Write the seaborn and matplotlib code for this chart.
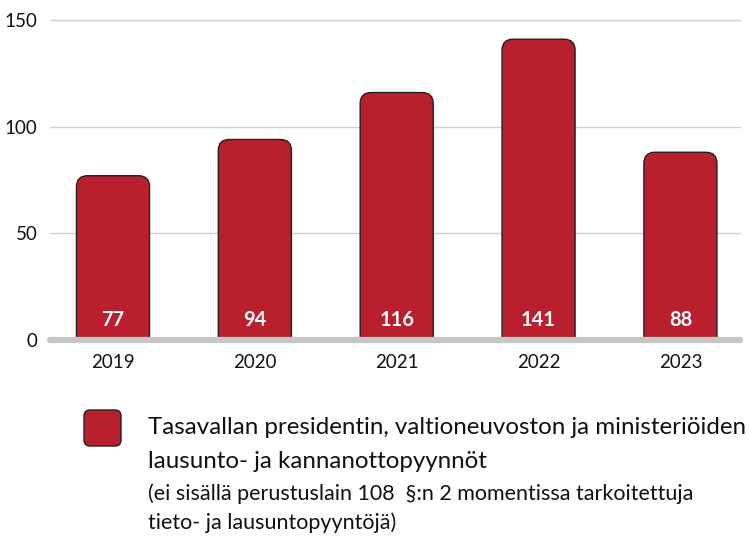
import matplotlib
matplotlib.use("Agg")
import matplotlib.pyplot as plt
import seaborn as sns
import pandas as pd
from matplotlib.patches import FancyBboxPatch

years = ["2019", "2020", "2021", "2022", "2023"]
values = [77, 94, 116, 141, 88]
yticks = [0, 50, 100, 150]
legend_line1 = "Tasavallan presidentin, valtioneuvoston ja ministeriöiden"
legend_line2 = "lausunto- ja kannanottopyynnöt"
note_line1 = "(ei sisällä perustuslain 108  §:n 2 momentissa tarkoitettuja"
note_line2 = "tieto- ja lausuntopyyntöjä)"

RED = "#B91F2D"
sns.set_theme(style="white")
plt.rcParams["font.family"] = ["Lato", "DejaVu Sans"]

W, H = 749, 536
fig = plt.figure(figsize=(W / 100, H / 100), dpi=100)
ax = fig.add_axes([50 / W, 196 / H, 690 / W, 320 / H])

df = pd.DataFrame({"year": years, "value": values})
sns.barplot(data=df, x="year", y="value", color=RED, width=0.515, ax=ax, saturation=1)

ax.set_xlim(-0.444, 4.42)
ax.set_ylim(0, 150)

sx = 690 / (4.42 + 0.444)
sy = 320 / 150
r_px = 11
rx = r_px / sx
aspect = sx / sy

for p in list(ax.patches):
    x0, w, h = p.get_x(), p.get_width(), p.get_height()
    p.remove()
    ext = r_px / sy * 1.5
    fb = FancyBboxPatch((x0, -ext), w, h + ext,
                        boxstyle=f"round,pad=0,rounding_size={rx}",
                        mutation_aspect=aspect,
                        facecolor=RED, edgecolor="#222222", linewidth=1.0, zorder=3)
    ax.add_patch(fb)
    ax.text(x0 + w / 2, 9.5, f"{int(round(h))}", ha="center", va="center",
            color="white", fontsize=14.5, fontweight="bold", zorder=4)

ax.set_yticks(yticks)
ax.set_yticklabels([str(t) for t in yticks])
for t in yticks[1:]:
    ax.axhline(t, color="#d0d0d0", linewidth=1.0, zorder=1, clip_on=False)
ax.axhline(0, color="#c6c6c6", linewidth=4.5, zorder=5, clip_on=False)

for s in ax.spines.values():
    s.set_visible(False)
ax.set_xlabel("")
ax.set_ylabel("")
ax.tick_params(axis="both", length=0, labelsize=13.5, colors="#111111")
ax.tick_params(axis="x", pad=10)
ax.tick_params(axis="y", pad=9)

lp = FancyBboxPatch((84 / W, 1 - 446 / H), 37 / W, 36 / H,
                    boxstyle="round,pad=0,rounding_size=0.008",
                    mutation_aspect=W / H,
                    transform=fig.transFigure, facecolor=RED, edgecolor="#222222",
                    linewidth=1.0)
fig.patches.append(lp)
fig.text(148 / W, 1 - 428 / H, legend_line1, fontsize=17.4, va="center", color="#111111")
fig.text(148 / W, 1 - 462 / H, legend_line2, fontsize=17.4, va="center", color="#111111")
fig.text(148 / W, 1 - 494 / H, note_line1, fontsize=15.5, va="center", color="#111111")
fig.text(148 / W, 1 - 523 / H, note_line2, fontsize=15.5, va="center", color="#111111")

fig.savefig("out.png", dpi=100)
